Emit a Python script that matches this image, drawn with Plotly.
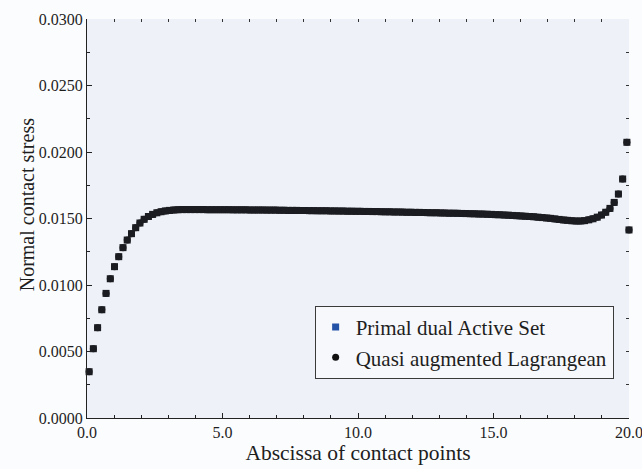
import plotly.graph_objects as go

# Abscissa of contact points (element midpoints + end node)
x_points = [
    0.078, 0.234, 0.391, 0.547, 0.703, 0.859, 1.016, 1.172, 1.328, 1.484,
    1.641, 1.797, 1.953, 2.109, 2.266, 2.422, 2.578, 2.734, 2.891, 3.047,
    3.203, 3.359, 3.516, 3.672, 3.828, 3.984, 4.141, 4.297, 4.453, 4.609,
    4.766, 4.922, 5.078, 5.234, 5.391, 5.547, 5.703, 5.859, 6.016, 6.172,
    6.328, 6.484, 6.641, 6.797, 6.953, 7.109, 7.266, 7.422, 7.578, 7.734,
    7.891, 8.047, 8.203, 8.359, 8.516, 8.672, 8.828, 8.984, 9.141, 9.297,
    9.453, 9.609, 9.766, 9.922, 10.078, 10.234, 10.391, 10.547, 10.703, 10.859,
    11.016, 11.172, 11.328, 11.484, 11.641, 11.797, 11.953, 12.109, 12.266, 12.422,
    12.578, 12.734, 12.891, 13.047, 13.203, 13.359, 13.516, 13.672, 13.828, 13.984,
    14.141, 14.297, 14.453, 14.609, 14.766, 14.922, 15.078, 15.234, 15.391, 15.547,
    15.703, 15.859, 16.016, 16.172, 16.328, 16.484, 16.641, 16.797, 16.953, 17.109,
    17.266, 17.422, 17.578, 17.734, 17.891, 18.047, 18.203, 18.359, 18.516, 18.672,
    18.828, 18.984, 19.141, 19.297, 19.453, 19.609, 19.766, 19.922, 20.000,
]

# Normal contact stress (both methods give the same values)
stress_values = [
    0.00348, 0.00521, 0.00679, 0.00814, 0.00937, 0.01047, 0.01138, 0.01213, 0.01281, 0.01338,
    0.01386, 0.01431, 0.01466, 0.01494, 0.01515, 0.01531, 0.01543, 0.01551, 0.01557, 0.01561,
    0.01564, 0.01566, 0.01567, 0.01567, 0.01567, 0.01567, 0.01567, 0.01567, 0.01566, 0.01566,
    0.01566, 0.01566, 0.01566, 0.01566, 0.01565, 0.01565, 0.01565, 0.01565, 0.01564, 0.01564,
    0.01564, 0.01564, 0.01563, 0.01563, 0.01563, 0.01562, 0.01562, 0.01561, 0.01561, 0.01561,
    0.01560, 0.01560, 0.01559, 0.01559, 0.01558, 0.01558, 0.01558, 0.01557, 0.01557, 0.01556,
    0.01556, 0.01555, 0.01555, 0.01554, 0.01554, 0.01553, 0.01553, 0.01552, 0.01552, 0.01551,
    0.01550, 0.01550, 0.01549, 0.01549, 0.01548, 0.01547, 0.01547, 0.01546, 0.01546, 0.01545,
    0.01544, 0.01543, 0.01543, 0.01542, 0.01541, 0.01540, 0.01540, 0.01539, 0.01538, 0.01537,
    0.01536, 0.01535, 0.01534, 0.01533, 0.01532, 0.01531, 0.01529, 0.01528, 0.01526, 0.01525,
    0.01523, 0.01521, 0.01519, 0.01517, 0.01515, 0.01513, 0.01510, 0.01507, 0.01504, 0.01501,
    0.01497, 0.01493, 0.01489, 0.01486, 0.01483, 0.01481, 0.01481, 0.01484, 0.01490, 0.01498,
    0.01510, 0.01526, 0.01547, 0.01576, 0.01621, 0.01684, 0.01797, 0.02073, 0.01414,
]

stress_pdas = stress_values
stress_qal = stress_values

series_names = ["Primal dual Active Set", "Quasi augmented Lagrangean"]
x_ticks = [0, 5, 10, 15, 20]
y_ticks = [0.0, 0.005, 0.010, 0.015, 0.020, 0.025, 0.030]

FONT = "Liberation Serif"
TXT = "#1e1e1e"

fig = go.Figure()

# Quasi augmented Lagrangean (circles, underneath)
fig.add_trace(go.Scatter(
    x=x_points, y=stress_qal, mode="markers", showlegend=False, cliponaxis=False,
    marker=dict(symbol="circle", size=7, color="#151515"),
))
# Primal dual Active Set (squares, on top)
fig.add_trace(go.Scatter(
    x=x_points, y=stress_pdas, mode="markers", showlegend=False, cliponaxis=False,
    marker=dict(symbol="square", size=7, color="#1b1c22"),
))
# legend entries
fig.add_trace(go.Scatter(
    x=[None], y=[None], mode="markers", name=series_names[0],
    marker=dict(symbol="square", size=7, color="#2452a6"),
))
fig.add_trace(go.Scatter(
    x=[None], y=[None], mode="markers", name=series_names[1],
    marker=dict(symbol="circle", size=7, color="#111111"),
))
# mirrored tick axes (top / right, no lines)
fig.add_trace(go.Scatter(
    x=[None], y=[None], xaxis="x2", yaxis="y2", showlegend=False, hoverinfo="skip",
))

fig.update_layout(
    width=642, height=469,
    margin=dict(l=87, r=13, t=19, b=51),
    paper_bgcolor="#fbfcfd",
    plot_bgcolor="#eef2f8",
    font=dict(family=FONT, size=16, color=TXT),
    showlegend=True,
    legend=dict(
        x=0.42, y=0.281, xanchor="left", yanchor="top",
        bgcolor="#f7f8fb", bordercolor="#3a3a3a", borderwidth=1,
        font=dict(family=FONT, size=21, color=TXT),
        itemsizing="trace",
    ),
    xaxis=dict(
        range=[0, 20], tickvals=x_ticks, tickformat=".1f",
        showline=True, linecolor="#222", linewidth=1,
        ticks="inside", ticklen=5, tickcolor="#222",
        minor=dict(ticks="inside", ticklen=3, dtick=1, tick0=0, tickcolor="#222"),
        showgrid=False, zeroline=False,
        tickfont=dict(family=FONT, size=16, color=TXT),
        ticklabeloverflow="allow",
        title=dict(text="Abscissa of contact points", standoff=2,
                   font=dict(family=FONT, size=21.5, color=TXT)),
        automargin=False,
    ),
    yaxis=dict(
        range=[0, 0.03], tickvals=y_ticks, tickformat=".4f",
        showline=True, linecolor="#222", linewidth=1,
        ticks="inside", ticklen=5, tickcolor="#222",
        minor=dict(ticks="inside", ticklen=3, dtick=0.0025, tick0=0, tickcolor="#222"),
        showgrid=False, zeroline=False,
        tickfont=dict(family=FONT, size=16, color=TXT),
        ticklabeloverflow="allow",
        automargin=False,
    ),
    xaxis2=dict(
        range=[0, 20], overlaying="x", side="top", anchor="y",
        showline=False, showgrid=False, zeroline=False, showticklabels=False,
        ticks="inside", ticklen=3, dtick=1, tick0=0, tickcolor="#333",
    ),
    yaxis2=dict(
        range=[0, 0.03], overlaying="y", side="right", anchor="x",
        showline=False, showgrid=False, zeroline=False, showticklabels=False,
        ticks="inside", ticklen=3, dtick=0.0025, tick0=0, tickcolor="#333",
    ),
    annotations=[dict(
        text="Normal contact stress", textangle=-90,
        xref="paper", yref="paper", x=-0.11, y=0.534,
        xanchor="center", yanchor="middle", showarrow=False,
        font=dict(family=FONT, size=20, color=TXT),
    )],
)

fig.write_html(
    "out.html",
    config={"displayModeBar": False},
    post_script="document.body.style.margin='0px';document.body.style.background='#fbfcfd';",
)
